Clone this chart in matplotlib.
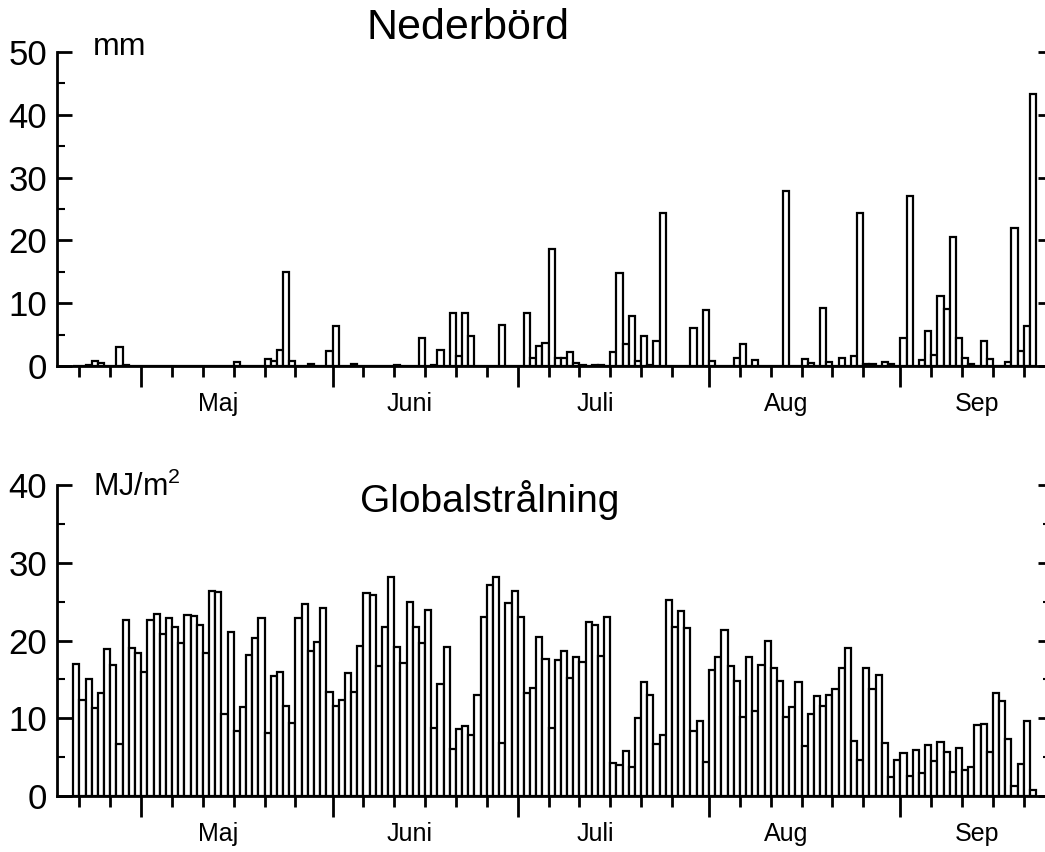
import numpy as np
import matplotlib
matplotlib.use("Agg")
import matplotlib.pyplot as plt
from matplotlib.ticker import MultipleLocator, FixedLocator, NullFormatter

plt.rcParams['font.family'] = ['Liberation Sans', 'DejaVu Sans']
plt.rcParams['mathtext.fontset'] = 'custom'
plt.rcParams['mathtext.rm'] = 'Liberation Sans'
plt.rcParams['mathtext.it'] = 'Liberation Sans'

# daily values, first day = 20 April, last day = 22 September
nederbord = [
    0, 0, 0.1, 0.8, 0.4, 0, 0, 3.1, 0.15, 0,                      # 0-9
    0, 0, 0, 0, 0, 0, 0, 0, 0, 0,                                  # 10-19
    0, 0, 0, 0, 0, 0, 0.6, 0, 0, 0,                                # 20-29
    0, 1.1, 0.8, 2.6, 15.0, 0.8, 0, 0, 0.3, 0,                     # 30-39
    0, 2.4, 6.4, 0, 0, 0.3, 0, 0, 0, 0,                            # 40-49
    0, 0, 0.2, 0, 0, 0, 4.5, 0, 0.2, 2.6,                          # 50-59
    0, 8.5, 1.6, 8.4, 4.7, 0, 0, 0, 0, 6.6,                        # 60-69
    0, 0, 0, 8.5, 1.2, 3.2, 3.6, 18.7, 1.3, 1.3,                   # 70-79
    2.3, 0.4, 0.1, 0, 0.1, 0.1, 0, 2.3, 14.8, 3.5,                 # 80-89
    7.9, 0.8, 4.8, 0.1, 4.0, 24.4, 0, 0, 0, 0,                     # 90-99
    6.0, 0, 8.9, 0.8, 0, 0, 0, 1.3, 3.5, 0,                        # 100-109
    1.0, 0, 0, 0, 0, 27.8, 0, 0, 1.1, 0.4,                         # 110-119
    0, 9.3, 0.7, 0, 1.3, 0, 1.6, 24.4, 0.3, 0.3,                   # 120-129
    0, 0.7, 0.3, 0, 4.5, 27.0, 0, 1.0, 5.6, 1.8,                   # 130-139
    11.1, 9.1, 20.6, 4.4, 1.3, 0.3, 0, 4.0, 1.1, 0,                # 140-149
    0, 0.6, 22.0, 2.4, 6.4, 43.3,                                  # 150-155
]

globalstralning = [
    17.0, 12.4, 15.1, 11.3, 13.3, 18.9, 16.9, 6.7, 22.6, 19.0,     # 0-9
    18.4, 16.0, 22.7, 23.4, 20.8, 22.9, 21.8, 19.7, 23.3, 23.1,    # 10-19
    22.0, 18.4, 26.4, 26.2, 10.6, 21.1, 8.4, 11.4, 18.1, 20.3,     # 20-29
    22.9, 8.1, 15.4, 16.0, 11.6, 9.4, 22.9, 24.7, 18.7, 19.8,      # 30-39
    24.2, 13.4, 11.6, 12.4, 15.8, 13.4, 19.3, 26.1, 25.8, 16.7,    # 40-49
    21.7, 28.2, 19.2, 17.1, 24.9, 21.7, 19.7, 23.9, 8.7, 14.4,     # 50-59
    19.1, 6.0, 8.6, 9.0, 7.9, 13.0, 23.0, 27.2, 28.2, 6.8,         # 60-69
    24.8, 26.4, 23.0, 13.3, 13.9, 20.4, 17.6, 8.8, 17.5, 18.6,     # 70-79
    15.2, 17.9, 17.2, 22.4, 22.0, 18.0, 23.0, 4.3, 4.0, 5.8,       # 80-89
    3.7, 10.0, 14.6, 13.0, 6.7, 7.8, 25.2, 21.8, 23.8, 21.6,       # 90-99
    8.4, 9.7, 4.4, 16.2, 17.9, 21.3, 16.7, 14.8, 10.2, 17.9,       # 100-109
    10.9, 16.8, 20.0, 16.5, 14.8, 10.2, 11.4, 14.6, 6.4, 10.6,     # 110-119
    12.9, 11.6, 13.0, 13.8, 16.4, 19.0, 7.1, 4.6, 16.4, 13.8,      # 120-129
    15.5, 6.8, 2.4, 4.6, 5.5, 2.6, 5.9, 3.0, 6.5, 4.5,             # 130-139
    7.0, 5.7, 3.1, 6.2, 3.3, 3.7, 9.1, 9.3, 5.7, 13.3,             # 140-149
    12.2, 7.3, 1.3, 4.1, 9.7, 0.8,                                 # 150-155
]

days = np.arange(len(nederbord))

# month starts as day index (0 = 20 April)
month_starts = [-19, 11, 42, 72, 103, 134]
month_names = ['Maj', 'Juni', 'Juli', 'Aug', 'Sep']

fig = plt.figure(figsize=(10.45, 8.52), dpi=100)
W, H = 1045.0, 852.0
ax1 = fig.add_axes([57 / W, 486 / H, 989 / W, 314 / H])
ax2 = fig.add_axes([57 / W, 56 / H, 989 / W, 311 / H])

minor_days = []
for s in month_starts:
    for k in range(1, 6):
        minor_days.append(s + 5 * k)


def style(ax, vals, ymax, right_minor):
    ax.bar(days, vals, width=1, align='edge', color='white',
           edgecolor='black', linewidth=1.6, zorder=2)
    ax.set_xlim(-2.64, 157.6)
    ax.set_ylim(0, ymax)
    for sp in ['top', 'right']:
        ax.spines[sp].set_visible(False)
    ax.spines['left'].set_linewidth(2)
    ax.spines['bottom'].set_linewidth(2)
    ax.spines['bottom'].set_zorder(3)

    ax.yaxis.set_major_locator(MultipleLocator(10))
    ax.yaxis.set_minor_locator(MultipleLocator(5))
    ax.tick_params(axis='y', which='major', direction='in', length=11,
                   width=2, labelsize=25, pad=7, right=True)
    ax.tick_params(axis='y', which='minor', direction='in', length=6,
                   width=1.5, right=right_minor)
    for t in ax.yaxis.get_major_ticks():
        t.tick2line.set_markersize(6)
    if right_minor:
        for t in ax.yaxis.get_minor_ticks():
            t.tick2line.set_markersize(2)

    ax.xaxis.set_major_locator(FixedLocator(month_starts[1:]))
    ax.xaxis.set_minor_locator(FixedLocator(minor_days))
    ax.xaxis.set_major_formatter(NullFormatter())
    ax.tick_params(axis='x', which='major', direction='out', length=15,
                   width=2)
    ax.tick_params(axis='x', which='minor', direction='out', length=8,
                   width=2)
    for s, name in zip(month_starts[1:], month_names):
        ax.annotate(name, xy=(s + 12.5, 0), xycoords=('data', 'axes fraction'),
                    xytext=(0, -38), textcoords='offset pixels',
                    ha='center', va='center', fontsize=18)


style(ax1, nederbord, 50, False)
style(ax2, globalstralning, 40, True)

fig.text(468 / W, 1 - 28 / H, 'Nederbörd', ha='center', va='center', fontsize=31)
fig.text(490 / W, 1 - 500 / H, 'Globalstrålning', ha='center', va='center', fontsize=28)
fig.text(93 / W, 1 - 47 / H, 'mm', ha='left', va='center', fontsize=23)
fig.text(93 / W, 1 - 487 / H, r'MJ/m$^2$', ha='left', va='center', fontsize=22)

fig.savefig('out.png', dpi=100)
